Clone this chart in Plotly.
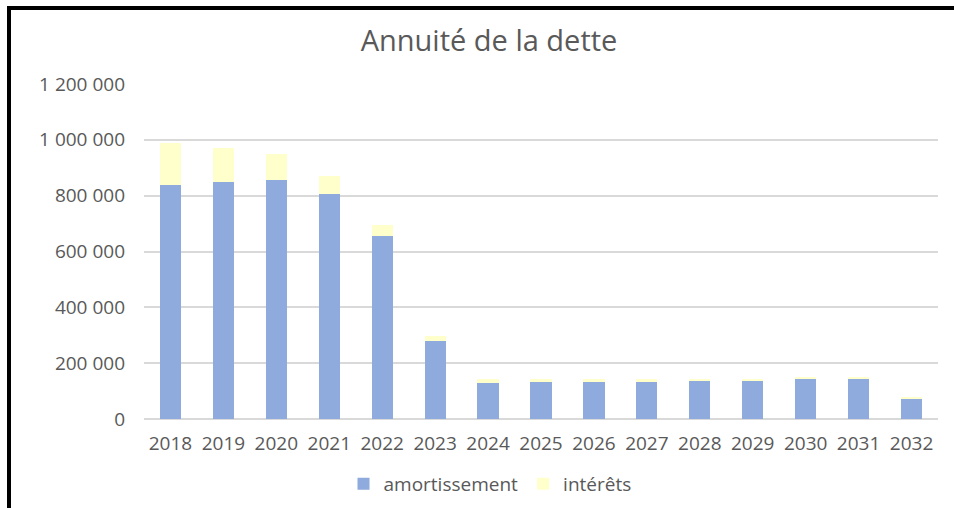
import plotly.graph_objects as go

years = ["2018", "2019", "2020", "2021", "2022", "2023", "2024", "2025",
         "2026", "2027", "2028", "2029", "2030", "2031", "2032"]
amortissement = [838000, 849000, 856000, 805000, 655000, 280000, 128000, 134000,
                 134000, 134000, 138500, 138500, 144500, 144500, 72000]
interets = [150000, 122000, 93000, 67000, 40000, 17000, 15000, 9000,
            9000, 9000, 5000, 4000, 3500, 3500, 4000]
y_ticks = [0, 200000, 400000, 600000, 800000, 1000000, 1200000]
y_tick_labels = ["0", "200 000", "400 000", "600 000", "800 000", "1 000 000", "1 200 000"]

FONT = "Open Sans"
GRAY = "#595959"

fig = go.Figure()
fig.add_trace(go.Bar(x=years, y=amortissement, name="amortissement",
                     marker=dict(color="#8FAADC", line=dict(width=0))))
fig.add_trace(go.Bar(x=years, y=interets, name="intérêts",
                     marker=dict(color="#FFFFCC", line=dict(width=0))))

W, H = 954, 508
L, R, T, B = 144, 16, 84, 89
pw, ph = W - L - R, H - T - B

def px_x(p):
    return (p - L) / pw

def px_y(p):
    return (H - B - p) / ph

fig.update_layout(
    width=W, height=H,
    barmode="stack", bargap=0.6,
    margin=dict(l=L, r=R, t=T, b=B, autoexpand=False),
    paper_bgcolor="white", plot_bgcolor="white",
    font=dict(family=FONT, color=GRAY, size=19),
    title=dict(text="Annuité de la dette", x=489 / W, xanchor="center",
               xref="container", y=1 - 41 / H, yanchor="middle", yref="container",
               font=dict(family=FONT, size=29, color=GRAY), automargin=False),
    xaxis=dict(type="category", showgrid=False, showline=False, ticks="",
               tickfont=dict(size=19, color=GRAY), ticklabelstandoff=11,
               automargin=False),
    yaxis=dict(range=[0, 1200000], tickvals=y_ticks, ticktext=y_tick_labels,
               showgrid=True, gridcolor="#D9D9D9", gridwidth=1.5,
               zeroline=True, zerolinecolor="#D9D9D9", zerolinewidth=1.5,
               showline=False, ticks="", tickfont=dict(size=19, color=GRAY),
               ticklabelstandoff=18, automargin=False),
    legend=dict(orientation="h", xref="container", yref="container",
                x=490 / W, xanchor="center", y=1 - 484 / H, yanchor="middle",
                font=dict(size=19, color=GRAY), itemwidth=30,
                traceorder="normal"),
    hovermode=False,
    shapes=[
        dict(type="line", xref="paper", yref="paper",
             x0=px_x(7), x1=px_x(990), y0=px_y(8), y1=px_y(8),
             line=dict(color="black", width=4)),
        dict(type="line", xref="paper", yref="paper",
             x0=px_x(9), x1=px_x(9), y0=px_y(6), y1=px_y(540),
             line=dict(color="black", width=4)),
    ],
)

fig.write_html("out.html", config={"displayModeBar": False},
               post_script="document.body.style.margin='0';document.body.style.overflow='hidden';")
